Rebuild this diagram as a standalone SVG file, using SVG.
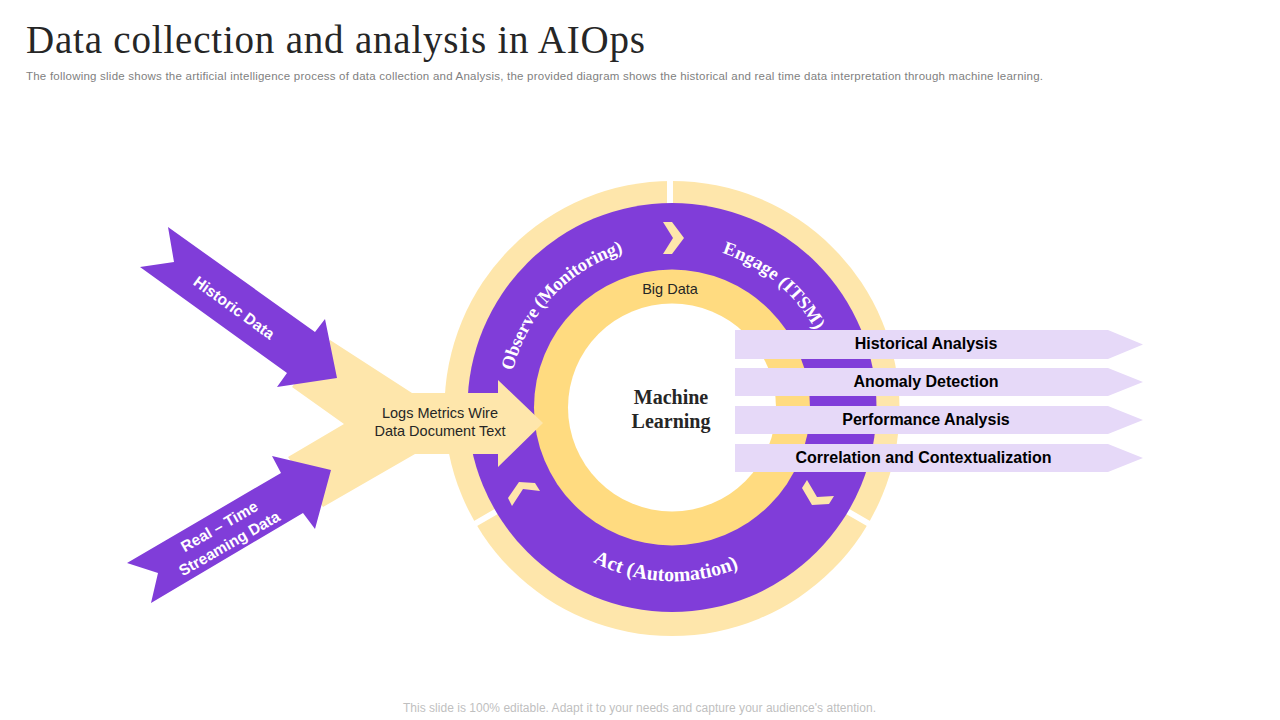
<svg xmlns="http://www.w3.org/2000/svg" width="1280" height="720" viewBox="0 0 1280 720">
<style>
.sans{font-family:"Liberation Sans",Arial,sans-serif}
.serif{font-family:"Liberation Serif","Times New Roman",serif}
.purple{fill:#803dd9}
.pale{fill:#fee6ab}
.gold{fill:#ffdb80}
.bar{fill:#e6d9f8}
.bartext{font-family:"Liberation Sans",Arial,sans-serif;font-size:16px;font-weight:700;fill:#000;text-anchor:middle}
.arc{font-family:"Liberation Serif","Times New Roman",serif;font-size:20px;font-weight:700;fill:#fff}
.arc-small{font-size:18.5px}
.arrowtext{font-family:"Liberation Sans",Arial,sans-serif;font-size:15.5px;font-weight:700;fill:#fff;text-anchor:middle}
.dark{font-family:"Liberation Sans",Arial,sans-serif;font-size:14.5px;fill:#262626;text-anchor:middle}
.ml{font-family:"Liberation Serif","Times New Roman",serif;font-size:20px;font-weight:700;fill:#262626;text-anchor:middle}
</style>
<defs>
<path id="arcObserve" d="M513 371 A163 163 0 0 1 672 245"/>
<path id="arcEngage" d="M722 253 A163 163 0 0 1 835 408"/>
<path id="arcAct" d="M593 562 A173 173 0 0 0 790 535"/>
</defs>
<g id="title">
<text class="serif" x="26" y="53" font-size="39" fill="#262626" textLength="619" lengthAdjust="spacing">Data collection and analysis in AIOps</text>
<text class="sans" x="26" y="80" font-size="11.500" fill="#7f7f7f" textLength="1017" lengthAdjust="spacing">The following slide shows the artificial intelligence process of data collection and Analysis, the provided diagram shows the historical and real time data interpretation through machine learning.</text>
</g>
<g id="ring-outer">
<circle class="pale" cx="672" cy="408.5" r="227.5"/>
<path d="M670 175V210M672 410L466 529M672 410L878 529" stroke="#fff" stroke-width="6" fill="none"/>
</g>
<g id="ring-process">
<circle class="purple" cx="672" cy="407.5" r="204.5"/>
<text class="arc arc-small"><textPath href="#arcObserve" letter-spacing="-0.200">Observe (Monitoring)</textPath></text>
<text class="arc arc-small"><textPath href="#arcEngage" letter-spacing="0.100">Engage (ITSM)</textPath></text>
<text class="arc"><textPath href="#arcAct">Act (Automation)</textPath></text>
<polygon class="pale" points="663,222 672,222 684,238 672,254 663,254 673,238"/>
<polygon class="pale" points="512,506 508,498 519,482 535,483 540,491 523,489"/>
<polygon class="pale" points="807,480 802,488 812,505 829,504 834,496 817,497"/>
</g>
<g id="ring-bigdata">
<circle class="gold" cx="672" cy="407.5" r="138"/>
<circle cx="672" cy="407.5" r="104" fill="#fff"/>
<text class="dark" x="670" y="294">Big Data</text>
</g>
<g id="machine-learning">
<text class="ml" x="671" y="404">Machine</text>
<text class="ml" x="671" y="428">Learning</text>
</g>
<g id="logs-arrow">
<polygon class="pale" points="330,340 412,393 498,393 498,380 543,423 498,467 498,454 415,454 323,507 288,457 344,424 292,387"/>
<text class="dark" x="440" y="418">Logs Metrics Wire</text>
<text class="dark" x="440" y="436">Data Document Text</text>
</g>
<g id="historic-data">
<polygon class="purple" points="168,227 315,332 325,319 337,378 277,387 287,373 140,267 174,262"/>
<text class="arrowtext" transform="translate(231,312) rotate(36)">Historic Data</text>
</g>
<g id="real-time">
<polygon class="purple" points="127,563 158,573 151,603 303,513 315,529 331,470 272,456 281,473"/>
<text class="arrowtext" transform="translate(222,531) rotate(-30)">Real – Time</text>
<text class="arrowtext" transform="translate(232,548) rotate(-30)">Streaming Data</text>
</g>
<g id="historical-analysis">
<polygon class="bar" points="735,330 1108,330 1143,344.500 1108,359 735,359"/>
<text class="bartext" x="926" y="349">Historical Analysis</text>
</g>
<g id="anomaly-detection">
<polygon class="bar" points="735,368 1108,368 1143,382 1108,396 735,396"/>
<text class="bartext" x="926" y="387">Anomaly Detection</text>
</g>
<g id="performance-analysis">
<polygon class="bar" points="735,406 1108,406 1143,420 1108,434 735,434"/>
<text class="bartext" x="926" y="425">Performance Analysis</text>
</g>
<g id="correlation">
<polygon class="bar" points="735,444 1108,444 1143,458 1108,472 735,472"/>
<text class="bartext" x="923.500" y="463">Correlation and Contextualization</text>
</g>
<g id="footer">
<text class="sans" x="403" y="712" font-size="12" fill="#bfbfbf" textLength="473" lengthAdjust="spacing">This slide is 100% editable. Adapt it to your needs and capture your audience's attention.</text>
</g>
</svg>
